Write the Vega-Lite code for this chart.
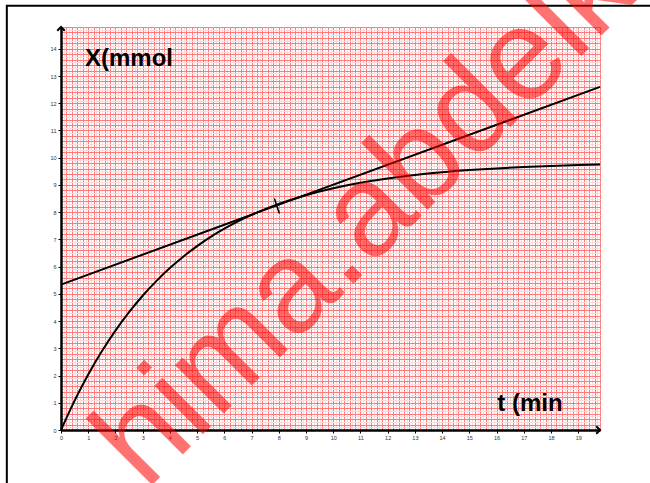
{
  "$schema": "https://vega.github.io/schema/vega-lite/v6.json",
  "width": 539,
  "height": 403,
  "autosize": "none",
  "padding": {"left": 61, "top": 27, "right": 50, "bottom": 53},
  "background": "white",
  "config": {"view": {"stroke": null}},
  "datasets": {
    "curve": [
      {"t": 0, "X": 0}, {"t": 0.5, "X": 1.077}, {"t": 1, "X": 2.036}, {"t": 1.5, "X": 2.889},
      {"t": 2, "X": 3.65}, {"t": 2.5, "X": 4.328}, {"t": 3, "X": 4.931}, {"t": 3.5, "X": 5.468},
      {"t": 4, "X": 5.947}, {"t": 4.5, "X": 6.374}, {"t": 5, "X": 6.753}, {"t": 5.5, "X": 7.092},
      {"t": 6, "X": 7.393}, {"t": 6.5, "X": 7.662}, {"t": 7, "X": 7.901}, {"t": 7.5, "X": 8.114},
      {"t": 8, "X": 8.304}, {"t": 9, "X": 8.624}, {"t": 10, "X": 8.877}, {"t": 11, "X": 9.078},
      {"t": 12, "X": 9.237}, {"t": 13, "X": 9.364}, {"t": 14, "X": 9.465}, {"t": 15, "X": 9.544},
      {"t": 16, "X": 9.607}, {"t": 17, "X": 9.658}, {"t": 18, "X": 9.697}, {"t": 19, "X": 9.729},
      {"t": 19.8, "X": 9.748}
    ],
    "tangent": [{"t": 0, "X": 5.34}, {"t": 19.8, "X": 12.6}],
    "mark": [{"t": 7.84, "X": 8.5}, {"t": 8.02, "X": 7.95}],
    "frame": [{"t": -1.99, "t2": 24, "X": -4, "X2": 15.58}],
    "arrows": [{"t": 19.8, "X": 0, "dir": "right"}, {"t": 0, "X": 14.8, "dir": "up"}],
    "labels": [{"t": 0.88, "X": 13.35, "text": "X(mmol"}, {"t": 16.03, "X": 0.7, "text": "t (min"}],
    "wm": [{"t": 3.11, "X": -2.26, "text": "hima.abdelk"}]
  },
  "encoding": {
    "x": {
      "field": "t", "type": "quantitative",
      "scale": {"domain": [0, 19.8], "nice": false, "zero": false},
      "axis": {
        "title": null,
        "values": [0,0.1,0.2,0.3,0.4,0.5,0.6,0.7,0.8,0.9,1,1.1,1.2,1.3,1.4,1.5,1.6,1.7,1.8,1.9,2,2.1,2.2,2.3,2.4,2.5,2.6,2.7,2.8,2.9,3,3.1,3.2,3.3,3.4,3.5,3.6,3.7,3.8,3.9,4,4.1,4.2,4.3,4.4,4.5,4.6,4.7,4.8,4.9,5,5.1,5.2,5.3,5.4,5.5,5.6,5.7,5.8,5.9,6,6.1,6.2,6.3,6.4,6.5,6.6,6.7,6.8,6.9,7,7.1,7.2,7.3,7.4,7.5,7.6,7.7,7.8,7.9,8,8.1,8.2,8.3,8.4,8.5,8.6,8.7,8.8,8.9,9,9.1,9.2,9.3,9.4,9.5,9.6,9.7,9.8,9.9,10,10.1,10.2,10.3,10.4,10.5,10.6,10.7,10.8,10.9,11,11.1,11.2,11.3,11.4,11.5,11.6,11.7,11.8,11.9,12,12.1,12.2,12.3,12.4,12.5,12.6,12.7,12.8,12.9,13,13.1,13.2,13.3,13.4,13.5,13.6,13.7,13.8,13.9,14,14.1,14.2,14.3,14.4,14.5,14.6,14.7,14.8,14.9,15,15.1,15.2,15.3,15.4,15.5,15.6,15.7,15.8,15.9,16,16.1,16.2,16.3,16.4,16.5,16.6,16.7,16.8,16.9,17,17.1,17.2,17.3,17.4,17.5,17.6,17.7,17.8,17.9,18,18.1,18.2,18.3,18.4,18.5,18.6,18.7,18.8,18.9,19,19.1,19.2,19.3,19.4,19.5,19.6,19.7,19.8],
        "labelExpr": "datum.value % 1 === 0 ? format(datum.value, 'd') : ''",
        "labelOverlap": false,
        "labelFlush": false,
        "labelFont": "Liberation Sans",
        "labelFontSize": 5.5,
        "labelColor": "#333333",
        "labelPadding": 2,
        "grid": true,
        "gridColor": {"condition": {"test": "round(datum.value*10) % 2 === 0", "value": "#ff7a7a"}, "value": "#ffd9d9"},
        "gridWidth": 1,
        "gridOpacity": 1,
        "domainColor": "black",
        "domainWidth": 2.5,
        "tickColor": "black",
        "tickSize": 3,
        "tickOpacity": {"condition": {"test": "datum.value % 1 === 0", "value": 1}, "value": 0}
      }
    },
    "y": {
      "field": "X", "type": "quantitative",
      "scale": {"domain": [0, 14.8], "nice": false, "zero": false},
      "axis": {
        "title": null,
        "values": [0,0.1,0.2,0.3,0.4,0.5,0.6,0.7,0.8,0.9,1,1.1,1.2,1.3,1.4,1.5,1.6,1.7,1.8,1.9,2,2.1,2.2,2.3,2.4,2.5,2.6,2.7,2.8,2.9,3,3.1,3.2,3.3,3.4,3.5,3.6,3.7,3.8,3.9,4,4.1,4.2,4.3,4.4,4.5,4.6,4.7,4.8,4.9,5,5.1,5.2,5.3,5.4,5.5,5.6,5.7,5.8,5.9,6,6.1,6.2,6.3,6.4,6.5,6.6,6.7,6.8,6.9,7,7.1,7.2,7.3,7.4,7.5,7.6,7.7,7.8,7.9,8,8.1,8.2,8.3,8.4,8.5,8.6,8.7,8.8,8.9,9,9.1,9.2,9.3,9.4,9.5,9.6,9.7,9.8,9.9,10,10.1,10.2,10.3,10.4,10.5,10.6,10.7,10.8,10.9,11,11.1,11.2,11.3,11.4,11.5,11.6,11.7,11.8,11.9,12,12.1,12.2,12.3,12.4,12.5,12.6,12.7,12.8,12.9,13,13.1,13.2,13.3,13.4,13.5,13.6,13.7,13.8,13.9,14,14.1,14.2,14.3,14.4,14.5,14.6,14.7,14.8],
        "labelExpr": "datum.value % 1 === 0 ? format(datum.value, 'd') : ''",
        "labelOverlap": false,
        "labelFlush": false,
        "labelFont": "Liberation Sans",
        "labelFontSize": 5.5,
        "labelColor": "#333333",
        "labelPadding": 2,
        "grid": true,
        "gridColor": {"condition": {"test": "round(datum.value*10) % 2 === 0", "value": "#ff7a7a"}, "value": "#ffd9d9"},
        "gridWidth": 1,
        "gridOpacity": 1,
        "domainColor": "black",
        "domainWidth": 2.5,
        "tickColor": "black",
        "tickSize": 3,
        "tickOpacity": {"condition": {"test": "datum.value % 1 === 0", "value": 1}, "value": 0}
      }
    }
  },
  "layer": [
    {
      "data": {"name": "frame"},
      "mark": {"type": "rect", "fill": null, "fillOpacity": 0, "stroke": "black", "strokeWidth": 2, "clip": false},
      "encoding": {"x2": {"field": "t2"}, "y2": {"field": "X2"}}
    },
    {
      "data": {"name": "curve"},
      "mark": {"type": "line", "color": "black", "strokeWidth": 2, "interpolate": "monotone"},
      "encoding": {}
    },
    {
      "data": {"name": "tangent"},
      "mark": {"type": "line", "color": "black", "strokeWidth": 2},
      "encoding": {}
    },
    {
      "data": {"name": "mark"},
      "mark": {"type": "line", "color": "black", "strokeWidth": 1.5},
      "encoding": {}
    },
    {
      "data": {"name": "arrows"},
      "mark": {"type": "point", "filled": false, "stroke": "black", "strokeWidth": 2, "size": 56, "opacity": 1, "clip": false},
      "encoding": {
        "shape": {"field": "dir", "type": "nominal", "scale": {"domain": ["right", "up"], "range": ["M-1,-1L0,0L-1,1", "M-1,1L0,0L1,1"]}, "legend": null}
      }
    },
    {
      "data": {"name": "labels"},
      "mark": {"type": "text", "font": "Liberation Sans", "fontWeight": "bold", "fontSize": 24, "align": "left", "baseline": "alphabetic", "color": "black"},
      "encoding": {"text": {"field": "text"}}
    },
    {
      "data": {"name": "wm"},
      "mark": {"type": "text", "font": "Liberation Sans", "fontSize": 130, "angle": -45, "align": "left", "baseline": "alphabetic", "color": "#ff0000", "opacity": 0.55, "clip": false},
      "encoding": {"text": {"field": "text"}}
    }
  ]
}
